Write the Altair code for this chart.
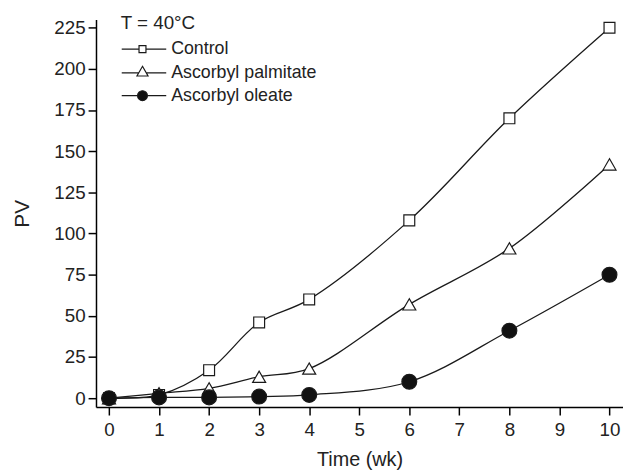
import altair as alt
import pandas as pd

weeks = [0, 1, 2, 3, 4, 6, 8, 10]
control = [0, 2, 17, 46, 60, 108, 170, 225]
palmitate = [0, 3, 6, 13, 18, 57, 91, 142]
oleate = [0, 0.5, 0.5, 1, 2, 10, 41, 75]
series = ["Control", "Ascorbyl palmitate", "Ascorbyl oleate"]
x_ticks = [0, 1, 2, 3, 4, 5, 6, 7, 8, 9, 10]
y_ticks = [0, 25, 50, 75, 100, 125, 150, 175, 200, 225]

rows = []
for name, vals in zip(series, [control, palmitate, oleate]):
    for w, v in zip(weeks, vals):
        rows.append({"week": w, "pv": v, "series": name})
df = pd.DataFrame(rows)

FONT = "Liberation Sans, Arial, sans-serif"

# legend glyphs (unit = 7 px): line with marker in the middle
sq_path = "M-1.14,0H1.36M2.36,0H5.29M1.36,-0.5H2.36V0.5H1.36Z"
tri_path = "M-1.14,0H1.32M2.4,0H5.29M1.86,-0.95L2.66,0.45H1.06Z"
cir_path = "M-1.14,0H1.15M2.57,0H5.29M2.57,0A0.71,0.71 0 1,1 1.15,0A0.71,0.71 0 1,1 2.57,0Z"

legend = alt.Legend(
    orient="none", legendX=25, legendY=-5, title="T = 40°C",
    titleFont=FONT, titleFontSize=19, titleFontWeight="normal", titleColor="#222",
    titlePadding=7, labelFont=FONT, labelFontSize=18, labelColor="#222", labelLimit=400,
    symbolSize=196, symbolStrokeWidth=1.2, symbolOpacity=1,
    labelOffset=33, rowPadding=5,
)

xs = alt.X("week:Q", scale=alt.Scale(domain=[-0.26, 10.27], nice=False, zero=False),
           axis=alt.Axis(values=x_ticks, title="Time (wk)", titlePadding=10, labelPadding=6))
ys = alt.Y("pv:Q", scale=alt.Scale(domain=[-5.4, 230], nice=False, zero=False),
           axis=alt.Axis(values=y_ticks, title="PV", titlePadding=22))

lines = alt.Chart(df).mark_line(color="#1a1a1a", strokeWidth=1.3, interpolate="catmull-rom").encode(
    x=xs, y=ys, detail="series:N"
)

points = alt.Chart(df).mark_point(filled=False, stroke="#1a1a1a", strokeWidth=1.2, opacity=1).encode(
    x=xs, y=ys,
    shape=alt.Shape("series:N", scale=alt.Scale(domain=series, range=["square", "triangle-up", "circle"]), legend=None),
    fill=alt.Fill("series:N", scale=alt.Scale(domain=series, range=["white", "white", "#111"]), legend=None),
    size=alt.Size("series:N", scale=alt.Scale(domain=series, range=[121, 225, 169]), legend=None),
)

legend_layer = alt.Chart(df).transform_filter("false").mark_point(filled=False, opacity=1).encode(
    x=xs, y=ys,
    shape=alt.Shape("series:N", scale=alt.Scale(domain=series, range=[sq_path, tri_path, cir_path]), legend=legend),
    fill=alt.Fill("series:N", scale=alt.Scale(domain=series, range=["white", "white", "#111"]), legend=legend),
    stroke=alt.Stroke("series:N", scale=alt.Scale(domain=series, range=["#1a1a1a", "#1a1a1a", "#1a1a1a"]), legend=legend),
)

chart = alt.layer(lines, points, legend_layer).resolve_scale(
    shape="independent", fill="independent", stroke="independent"
).properties(
    width=533, height=392,
    autosize=alt.AutoSizeParams(type="none"),
    padding={"left": 89, "top": 9, "right": 0, "bottom": 63},
).configure_view(stroke=None).configure_axis(
    grid=False, domainColor="black", domainWidth=1.5, tickColor="black", tickWidth=1.5, tickSize=8,
    labelFont=FONT, labelFontSize=19, labelColor="#222", labelPadding=3,
    titleFont=FONT, titleFontSize=20, titleFontWeight="normal", titleColor="#222",
).configure_axisY(titleFontSize=21, titleAngle=-90)

chart.save("out.html", embed_options={"renderer": "svg", "actions": False})
